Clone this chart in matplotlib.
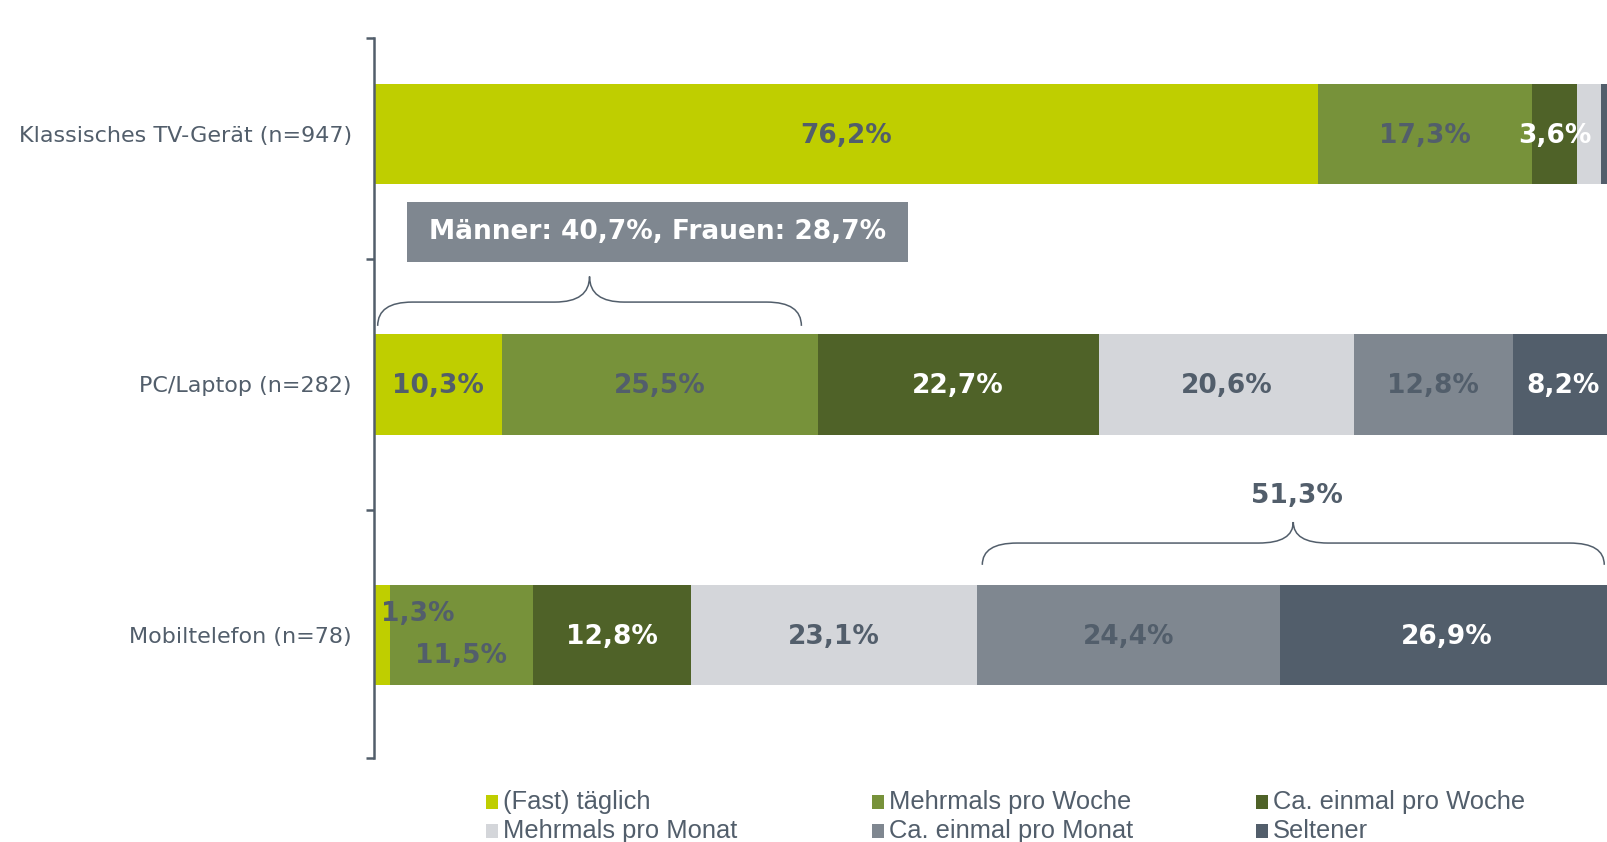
import matplotlib
matplotlib.use("Agg")
import matplotlib.pyplot as plt
from matplotlib.patches import Rectangle, PathPatch
from matplotlib.path import Path
from matplotlib import font_manager

# data
categories = ["Klassisches TV-Gerät (n=947)", "PC/Laptop (n=282)", "Mobiltelefon (n=78)"]
series_names = ["(Fast) täglich", "Mehrmals pro Woche", "Ca. einmal pro Woche",
                "Mehrmals pro Monat", "Ca. einmal pro Monat", "Seltener"]
taeglich = [76.2, 10.3, 1.3]
mehrmals_woche = [17.3, 25.5, 11.5]
einmal_woche = [3.6, 22.7, 12.8]
mehrmals_monat = [1.9, 20.6, 23.1]
einmal_monat = [0.0, 12.8, 24.4]
seltener = [1.0, 8.2, 26.9]
series = [taeglich, mehrmals_woche, einmal_woche, mehrmals_monat, einmal_monat, seltener]

gender_note = "Männer: 40,7%, Frauen: 28,7%"
mobile_rare = "51,3%"

colors = ["#bfce00", "#77923a", "#4f6228", "#d4d6da", "#7f8790", "#525e6b"]
text_colors = ["#525e6b", "#525e6b", "white", "#525e6b", "#525e6b", "white"]
GRAY = "#525e6b"

installed = {f.name for f in font_manager.fontManager.ttflist}
narrow = "Liberation Sans Narrow" if "Liberation Sans Narrow" in installed else "Liberation Sans"


def fmt(v):
    return f"{v:.1f}".replace(".", ",") + "%"


def draw_brace(ax, x0, x1, xm, y_end, y_line, y_tip, r=2.8):
    verts = [(x0, y_end), (x0, y_line), (x0 + r, y_line),
             (xm - r, y_line), (xm, y_line), (xm, y_tip),
             (xm, y_line), (xm + r, y_line),
             (x1 - r, y_line), (x1, y_line), (x1, y_end)]
    codes = [Path.MOVETO, Path.CURVE3, Path.CURVE3,
             Path.LINETO, Path.CURVE3, Path.CURVE3,
             Path.CURVE3, Path.CURVE3,
             Path.LINETO, Path.CURVE3, Path.CURVE3]
    ax.add_patch(PathPatch(Path(verts, codes), fill=False, edgecolor=GRAY, lw=1.1))


fig = plt.figure(figsize=(16.07, 8.42), dpi=100)
ax = fig.add_axes([0.2327, 0.0998, 0.771, 0.855])

ypos = list(range(len(categories)))
left = [0.0] * len(categories)
# manual label shifts for the tiny mobile segments
offsets = {(2, 0): (2.9, -0.09), (2, 1): (0.0, 0.075)}
for j, vals in enumerate(series):
    ax.barh(ypos, vals, left=left, height=0.4, color=colors[j], edgecolor="none")
    for i, v in enumerate(vals):
        if v >= 3 or (i, j) in offsets:
            dx, dy = offsets.get((i, j), (0.0, 0.0))
            ax.text(left[i] + v / 2 + dx, i + dy + 0.008, fmt(v), ha="center", va="center",
                    fontsize=19, fontweight="bold", color=text_colors[j])
    left = [l + v for l, v in zip(left, vals)]

ax.set_xlim(0, 100)
ax.set_ylim(2.491, -0.383)
ax.set_xticks([])
ax.set_yticks([-0.383, 0.5, 1.5, 2.491])
ax.set_yticklabels([])
ax.tick_params(axis="y", length=6, width=1.8, color=GRAY, direction="out")
for s in ["top", "right", "bottom"]:
    ax.spines[s].set_visible(False)
ax.spines["left"].set_color(GRAY)
ax.spines["left"].set_linewidth(1.8)

for i, c in enumerate(categories):
    ax.text(-1.8, i + 0.008, c, ha="right", va="center", fontsize=16, color=GRAY, clip_on=False)

# annotations
ax.add_patch(Rectangle((2.7, 0.27), 40.4, 0.24, facecolor="#7f8790", edgecolor="none"))
ax.text(22.9, 0.39, gender_note, ha="center", va="center", fontsize=19,
        fontweight="bold", color="white")
draw_brace(ax, 0.3, 34.5, 17.4, 0.766, 0.671, 0.569)
draw_brace(ax, 49.1, 99.3, 74.2, 1.72, 1.633, 1.549)
ax.text(74.5, 1.445, mobile_rare, ha="center", va="center", fontsize=19,
        fontweight="bold", color=GRAY)

# legend, two rows of three
W, H = 1607, 842
col_x = [486, 872, 1256]
row_y = [802, 831]
for k, name in enumerate(series_names):
    x = col_x[k % 3]
    y = row_y[k // 3]
    fig.patches.append(Rectangle((x / W, 1 - (y + 7) / H), 12 / W, 14 / H,
                                 transform=fig.transFigure, facecolor=colors[k],
                                 edgecolor="none"))
    fig.text((x + 17) / W, 1 - y / H, name, ha="left", va="center",
             fontsize=18.4, color=GRAY, family=narrow)

fig.savefig("out.png", dpi=100)
